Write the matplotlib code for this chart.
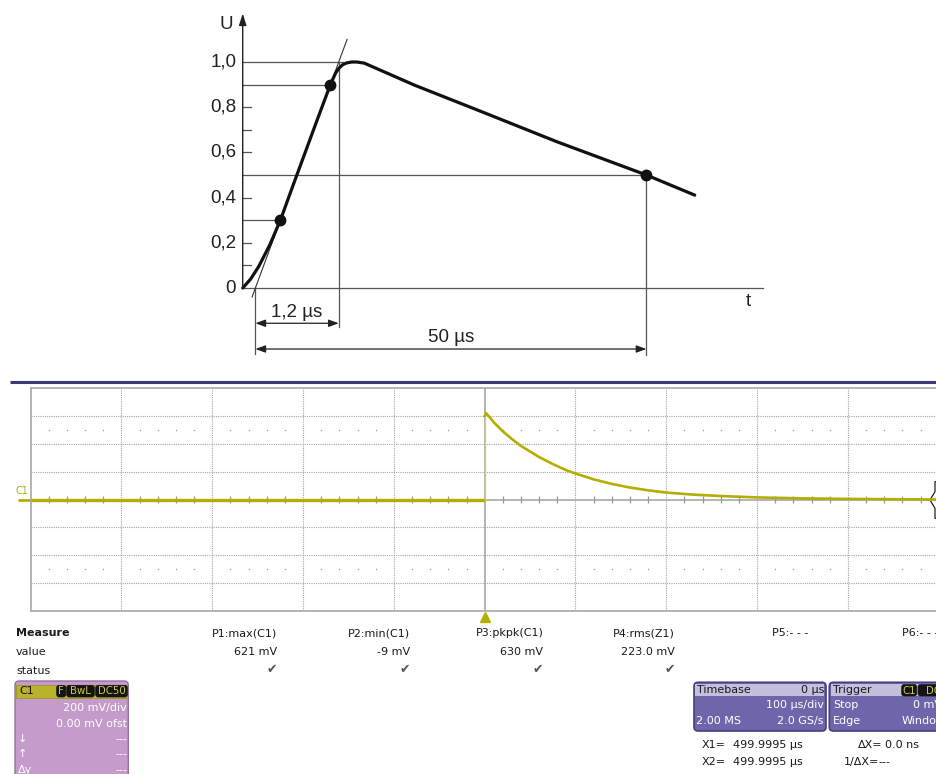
import matplotlib
matplotlib.use("Agg")
import matplotlib.pyplot as plt
from matplotlib.patches import FancyBboxPatch, Rectangle, Polygon
import numpy as np

W, H, DPI = 937, 774, 100
plt.rcParams['font.family'] = ['DejaVu Sans']

# ---------------- data: schematic standard lightning impulse (normalized) ----------------
# schematic time axis (drawing is not to scale), U normalized to peak
imp_t = [0, 8, 16, 27, 37.7, 50, 62.5, 75, 87.7, 93, 96.3, 100, 104, 109, 114, 121.6,
         171.6, 243, 314.3, 403.7, 452]
imp_u = [0, 0.04, 0.095, 0.19, 0.30, 0.45, 0.60, 0.75, 0.90, 0.952, 0.973, 0.988, 0.996,
         1.0, 1.0, 0.995, 0.898, 0.773, 0.647, 0.50, 0.411]
dot_t = [37.7, 87.7, 403.7]
dot_u = [0.3, 0.9, 0.5]
ytick_vals = [0, 0.2, 0.4, 0.6, 0.8, 1.0]
ytick_labels = ["0", "0,2", "0,4", "0,6", "0,8", "1,0"]
small_ticks = [0.1, 0.2, 0.4, 0.6, 0.7, 0.8]
span_labels = ["1,2 µs", "50 µs"]

# ---------------- data: oscilloscope capture (C1, 200 mV/div, 100 µs/div) ----------------
pre_t = [-500, 0]
pre_mv = [0, 0]
decay_t = [0, 1.5, 5, 10, 20, 30, 40, 50, 60, 75, 90, 100, 120, 140, 160, 180, 200,
           230, 260, 300, 350, 400, 450, 500]
decay_mv = [600, 621, 596, 555, 490, 435, 385, 345, 305, 255, 210, 187, 145, 112, 86, 66,
            50, 35, 25, 15, 8, 4, 2, 0]
measure_names = ["P1:max(C1)", "P2:min(C1)", "P3:pkpk(C1)", "P4:rms(Z1)", "P5:- - -"]
measure_values = ["621 mV", "-9 mV", "630 mV", "223.0 mV", ""]
measure_ok = [True, True, True, True, False]

fig = plt.figure(figsize=(W / DPI, H / DPI), dpi=DPI)
fig.patch.set_facecolor('white')


def px_axes(x0, y0, x1, y1, z=1):
    ax = fig.add_axes([x0 / W, 1 - y1 / H, (x1 - x0) / W, (y1 - y0) / H])
    ax.set_zorder(z)
    ax.patch.set_alpha(0)
    return ax


# overlay in pixel coords for decorations / panel text
ov = px_axes(0, 0, W, H, z=0)
ov.set_xlim(0, W)
ov.set_ylim(H, 0)
ov.axis('off')

# ================= top schematic =================
T0PX, U0PX, USC = 242.7, 288.0, 226.0
ax1 = px_axes(202.7, 1, 782.7, 369.4)
ax1.set_xlim(202.7 - T0PX, 782.7 - T0PX)
ax1.set_ylim((U0PX - 369.4) / USC, (U0PX - 1) / USC)
ax1.axis('off')

TF = ['Liberation Sans', 'DejaVu Sans']
gcol, glw = '#555555', 0.9
slope = (dot_u[1] - dot_u[0]) / (dot_t[1] - dot_t[0])
o1 = dot_t[0] - dot_u[0] / slope
t1 = o1 + 1.0 / slope

# axes
ax1.annotate('', xy=(0, 1.215), xytext=(0, 0),
             arrowprops=dict(arrowstyle='-|>,head_length=0.7,head_width=0.22',
                             color='#222', lw=1.0, shrinkA=0, shrinkB=0, mutation_scale=10))
ax1.plot([0, 520], [0, 0], color=gcol, lw=glw)
for v in small_ticks:
    ax1.plot([0, 8], [v, v], color=gcol, lw=glw)
for v, lab in zip(ytick_vals, ytick_labels):
    ax1.text(-6.5, v, lab, ha='right', va='center', fontsize=13.5, family=TF, color='#222')
ax1.text(-16.7, 1.168, "U", ha='center', va='center', fontsize=13.5, family=TF, color='#222')
ax1.text(505.6, -0.061, "t", ha='center', va='center', fontsize=13.5, family=TF, color='#222')

# guide lines
ax1.plot([0, t1 + 4], [1.0, 1.0], color=gcol, lw=glw)
ax1.plot([0, dot_t[1]], [dot_u[1]] * 2, color=gcol, lw=glw)
ax1.plot([0, dot_t[0]], [dot_u[0]] * 2, color=gcol, lw=glw)
ax1.plot([0, dot_t[2]], [dot_u[2]] * 2, color=gcol, lw=glw)
ax1.plot([t1, t1], [1.0, -0.171], color=gcol, lw=glw)
ax1.plot([o1, o1], [0, -0.292], color=gcol, lw=glw)
ax1.plot([dot_t[2], dot_t[2]], [dot_u[2], -0.296], color=gcol, lw=glw)
# tangent through 30% / 90% points
ax1.plot([o1 - 0.04 / slope, o1 + 1.1 / slope], [-0.04, 1.1], color='#333', lw=0.8)

# dimension arrows
ap = dict(arrowstyle='<|-|>,head_length=0.6,head_width=0.22', color='#222', lw=0.9,
          shrinkA=0, shrinkB=0, mutation_scale=10)
ax1.annotate('', xy=(t1, -0.156), xytext=(o1, -0.156), arrowprops=ap)
ax1.annotate('', xy=(dot_t[2], -0.27), xytext=(o1, -0.27), arrowprops=ap)
ax1.text((o1 + t1) / 2, -0.11, span_labels[0], ha='center', va='center', fontsize=13.5,
         family=TF, color='#222')
ax1.text((o1 + dot_t[2]) / 2, -0.217, span_labels[1], ha='center', va='center',
         fontsize=13.5, family=TF, color='#222')

# impulse curve and points
ax1.plot(imp_t, imp_u, color='#111', lw=2.3, solid_capstyle='round', solid_joinstyle='round')
ax1.plot(dot_t, dot_u, 'o', ms=7.5, color='#111')

# ================= oscilloscope =================
ov.plot([10, 937], [382, 382], color='#3B3A78', lw=2.2, solid_capstyle='butt')

ax2 = px_axes(30.7, 388.3, 938.7, 610.7)
ax2.set_xlim(-500, 500)
ax2.set_ylim(-800, 800)
ax2.set_xticks([])
ax2.set_yticks([])
for s in ax2.spines.values():
    s.set_color('#A8A8A8')
    s.set_linewidth(1.2)
grid_c = '#A6A6A6'
for x in range(-400, 500, 100):
    if x != 0:
        ax2.axvline(x, color=grid_c, lw=0.8, ls=(0, (1, 1)))
for y in [-600, -400, -200, 200, 400, 600]:
    ax2.axhline(y, color=grid_c, lw=0.8, ls=(0, (1, 1)))
ax2.axvline(0, color='#A0A0A0', lw=1.1)
ax2.axhline(0, color='#A0A0A0', lw=1.1)
subs = [x for x in range(-480, 500, 20) if x % 100 != 0]
ax2.vlines(subs, -24, 24, color='#999999', lw=0.9)
ax2.scatter(subs, [500] * len(subs), s=1.2, color='#A0A0A0', lw=0)
ax2.scatter(subs, [-500] * len(subs), s=1.2, color='#A0A0A0', lw=0)

olive = '#B3AE00'
ax2.plot(pre_t, pre_mv, color=olive, lw=2.4, solid_capstyle='butt', zorder=5)
ax2.plot([decay_t[0], decay_t[0]], [pre_mv[-1], decay_mv[0]], color='#D6D26A', lw=1.0, zorder=5)
ax2.plot(decay_t, decay_mv, color=olive, lw=1.9, zorder=5, solid_joinstyle='round')
ax2.plot([-514, -500], [0, 0], color=olive, lw=2.0, clip_on=False, solid_capstyle='butt')
ax2.plot(0, -845, marker='^', ms=6.5, color=olive, clip_on=False, lw=0)
ov.text(16, 491, "C1", ha='left', va='center', fontsize=7, color=olive)
ov.add_patch(Polygon([(938, 481.7), (935, 481.7), (935, 491.7), (930, 500), (935, 508.3),
                      (935, 518.3), (938, 518.3)], closed=True, fc='white', ec='#222', lw=0.9,
                     zorder=6))

# ================= measurement panel =================
fs = 8
tc = '#1A1A1A'
ov.text(16, 633.3, "Measure", ha='left', va='center', fontsize=fs, weight='bold', color=tc)
ov.text(16, 652.3, "value", ha='left', va='center', fontsize=fs, color=tc)
ov.text(16, 671, "status", ha='left', va='center', fontsize=fs, color=tc)
col_right = [277, 410, 543.3, 675, 808]
for xr, name, val, ok in zip(col_right, measure_names, measure_values, measure_ok):
    ov.text(xr, 633.3, name, ha='right', va='center', fontsize=fs, color=tc)
    if val:
        ov.text(xr, 652.3, val, ha='right', va='center', fontsize=fs, color=tc)
    if ok:
        ov.text(xr, 670, "\u2714", ha='right', va='center', fontsize=9, color='#555555')
ov.text(902, 633.3, "P6:- - -", ha='left', va='center', fontsize=fs, color=tc)


def badge(x0, x1, y0, y1, txt):
    ov.add_patch(FancyBboxPatch((x0, y0), x1 - x0, y1 - y0,
                                boxstyle='round,pad=0,rounding_size=2.5',
                                fc='#141414', ec='#141414', lw=0.5, zorder=4))
    ov.text((x0 + x1) / 2, (y0 + y1) / 2 + 0.3, txt, ha='center', va='center',
            fontsize=7.3, color='#D2CB45', zorder=5)


# C1 channel box
ov.add_patch(FancyBboxPatch((15, 681), 113.3, 110, boxstyle='round,pad=0,rounding_size=4',
                            fc='#C59BCB', ec='#95729F', lw=1.0, zorder=2))
ov.add_patch(Rectangle((16.5, 684.5), 111, 13, fc='#B8B22C', ec='#9C9620', lw=0.6, zorder=3))
ov.text(19, 690.8, "C1", ha='left', va='center', fontsize=fs, color='#111', zorder=5)
badge(56.7, 65.7, 685.3, 697, "F")
badge(66.7, 94.3, 685.3, 697, "BwL")
badge(95.7, 127.3, 685.3, 697, "DC50")
wc = 'white'
ov.text(127, 708.3, "200 mV/div", ha='right', va='center', fontsize=fs, color=wc, zorder=5)
ov.text(127, 724.3, "0.00 mV ofst", ha='right', va='center', fontsize=fs, color=wc, zorder=5)
for yy, sym in [(739, "\u2193"), (754, "\u2191"), (770, "\u0394y")]:
    ov.text(18, yy, sym, ha='left', va='center', fontsize=fs, color=wc, zorder=5)
    ov.text(127, yy, "---", ha='right', va='center', fontsize=fs, color=wc, zorder=5)

# Timebase / Trigger boxes
for bx, bw in [(694, 132), (829.3, 130)]:
    ov.add_patch(FancyBboxPatch((bx, 682.3), bw, 48.7, boxstyle='round,pad=0,rounding_size=4',
                                fc='#6E66AA', ec='#46407E', lw=1.2, zorder=2))
    ov.add_patch(Rectangle((bx + 1.5, 683.6), bw - 3, 12.6, fc='#C3BFDC', ec='none', zorder=3))
dc = '#1A1A1A'
ov.text(697, 690, "Timebase", ha='left', va='center', fontsize=fs, color=dc, zorder=5)
ov.text(824, 690, "0 µs", ha='right', va='center', fontsize=fs, color=dc, zorder=5)
ov.text(824, 705.5, "100 µs/div", ha='right', va='center', fontsize=fs, color=wc, zorder=5)
ov.text(696, 721, "2.00 MS", ha='left', va='center', fontsize=fs, color=wc, zorder=5)
ov.text(824, 721, "2.0 GS/s", ha='right', va='center', fontsize=fs, color=wc, zorder=5)
ov.text(833, 690, "Trigger", ha='left', va='center', fontsize=fs, color=dc, zorder=5)
badge(901.7, 916.7, 684.5, 696, "C1")
badge(918, 948, 684.5, 696, "DC")
ov.text(833, 705.5, "Stop", ha='left', va='center', fontsize=fs, color=wc, zorder=5)
ov.text(942, 705.5, "0 mV", ha='right', va='center', fontsize=fs, color=wc, zorder=5)
ov.text(833, 721, "Edge", ha='left', va='center', fontsize=fs, color=wc, zorder=5)
ov.text(946, 721, "Window", ha='right', va='center', fontsize=fs, color=wc, zorder=5)

# cursor readouts
for yy, a, b, c, d, cx in [(745, "X1=", "499.9995 µs", "\u0394X=", "0.0 ns", 858),
                           (762.3, "X2=", "499.9995 µs", "1/\u0394X=", "---", 843.7)]:
    ov.text(702, yy, a, ha='left', va='center', fontsize=fs, color=tc)
    ov.text(733, yy, b, ha='left', va='center', fontsize=fs, color=tc)
    ov.text(cx, yy, c, ha='left', va='center', fontsize=fs, color=tc)
    ov.text(885 if d != "---" else 878, yy, d, ha='left', va='center', fontsize=fs, color=tc)

fig.savefig("out.png", dpi=DPI, facecolor='white')
